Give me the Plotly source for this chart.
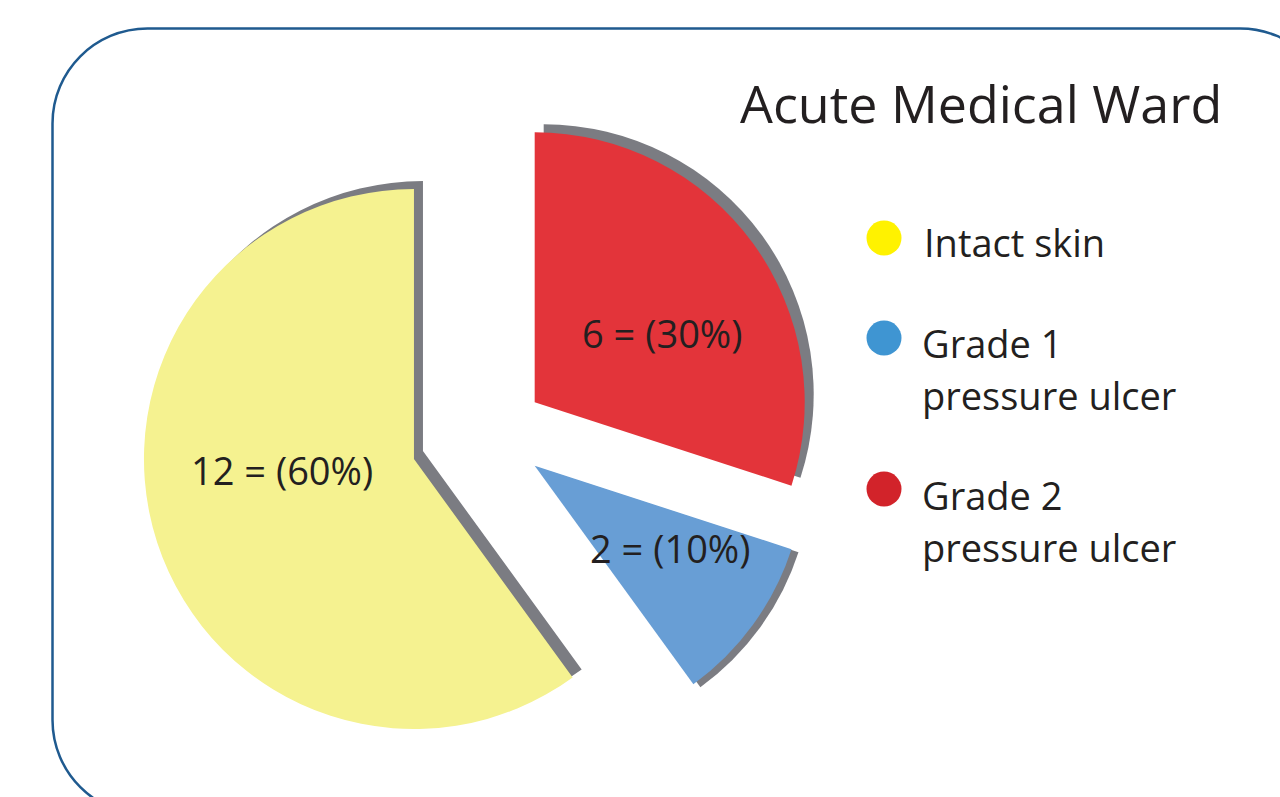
import plotly.graph_objects as go

# ---- data ----
categories = ["Intact skin", "Grade 1 pressure ulcer", "Grade 2 pressure ulcer"]
legend_lines = [["Intact skin"], ["Grade 1", "pressure ulcer"], ["Grade 2", "pressure ulcer"]]
counts = [12, 2, 6]
title_text = "Acute Medical Ward"

# ---- styles ----
W, H = 1280, 797
slice_colors = ["#F5F290", "#689ED5", "#E3343A"]
legend_colors = ["#FFF200", "#3F95D2", "#D2232A"]
shadow_color = "#7B7C82"
text_color = "#231F20"
frame_color = "#1F5A8F"
FONT = "Open Sans"
pulls = [0.3, 0.2, 0.2]
ROT = 144


def px(x, y):
    return x / W, 1 - y / H


# pie box (pixels)
cx, cy, r = 491, 434, 270
half = r * (1 + max(pulls))


def domain(dx=0, dy=0):
    x0, y0 = px(cx - half + dx, cy + half + dy)
    x1, y1 = px(cx + half + dx, cy - half + dy)
    return dict(x=[x0, x1], y=[y0, y1])


fig = go.Figure()

# shadows (one per slice, different offsets)
shadow_offsets = [(9, -8), (7, 3), (9, -8)]
for i, (dx, dy) in enumerate(shadow_offsets):
    cols = ["rgba(0,0,0,0)"] * len(counts)
    cols[i] = shadow_color
    fig.add_trace(go.Pie(
        labels=categories, values=counts, sort=False, direction="counterclockwise",
        rotation=ROT, pull=pulls, marker=dict(colors=cols, line=dict(width=0)),
        textinfo="none", hoverinfo="skip", showlegend=False, domain=domain(dx, dy),
    ))

fig.add_trace(go.Pie(
    labels=categories, values=counts, sort=False, direction="counterclockwise",
    rotation=ROT, pull=pulls, marker=dict(colors=slice_colors, line=dict(width=0)),
    textinfo="none", showlegend=False, domain=domain(),
))

total = sum(counts)
label_pos = [(282, 470), (670, 548), (662, 333)]
annotations = []
for v, (lx, ly) in zip(counts, label_pos):
    ax, ay = px(lx, ly)
    annotations.append(dict(
        x=ax, y=ay, xref="paper", yref="paper", showarrow=False,
        text=f"{v} = ({round(100 * v / total)}%)", xanchor="center", yanchor="middle",
        font=dict(family=FONT, size=38, color=text_color),
    ))

# title
tx, ty = px(1224, 102)
annotations.append(dict(x=tx, y=ty, xref="paper", yref="paper", showarrow=False,
                        text=title_text, xanchor="right", yanchor="middle",
                        font=dict(family=FONT, size=52, color=text_color)))

# legend
shapes = []
leg_dots = [(884, 238), (884, 338), (884, 489)]
leg_text_x = [922, 920, 920]
leg_text_y = [[242], [343, 395], [495, 547]]
for col, (dx_, dy_), lines, lx, ys in zip(legend_colors, leg_dots, legend_lines, leg_text_x, leg_text_y):
    x0, y0 = px(dx_ - 17.5, dy_ + 17.5)
    x1, y1 = px(dx_ + 17.5, dy_ - 17.5)
    shapes.append(dict(type="circle", xref="paper", yref="paper", x0=x0, y0=y0, x1=x1, y1=y1,
                       fillcolor=col, line=dict(width=0)))
    for txt, ly in zip(lines, ys):
        ax, ay = px(lx, ly)
        annotations.append(dict(x=ax, y=ay, xref="paper", yref="paper", showarrow=False,
                                text=txt, xanchor="left", yanchor="middle", align="left",
                                font=dict(family=FONT, size=38, color=text_color)))

# rounded frame
L, T, R, B, rad = 52.5, 28.5, 1335, 815, 95
k = 0.5523 * rad


def P(x, y):
    a, b = px(x, y)
    return f"{a:.5f},{b:.5f}"


path = (
    f"M {P(L, T + rad)} C {P(L, T + rad - k)} {P(L + rad - k, T)} {P(L + rad, T)} "
    f"L {P(R - rad, T)} C {P(R - rad + k, T)} {P(R, T + rad - k)} {P(R, T + rad)} "
    f"L {P(R, B - rad)} C {P(R, B - rad + k)} {P(R - rad + k, B)} {P(R - rad, B)} "
    f"L {P(L + rad, B)} C {P(L + rad - k, B)} {P(L, B - rad + k)} {P(L, B - rad)} Z"
)
shapes.append(dict(type="path", xref="paper", yref="paper", path=path,
                   line=dict(color=frame_color, width=2.5), layer="below"))

fig.update_layout(
    width=W, height=H, margin=dict(l=0, r=0, t=0, b=0),
    paper_bgcolor="white", plot_bgcolor="white",
    showlegend=False, annotations=annotations, shapes=shapes,
)

fig.write_html("out.html", post_script="document.body.style.margin='0';",
               config={"displayModeBar": False})
